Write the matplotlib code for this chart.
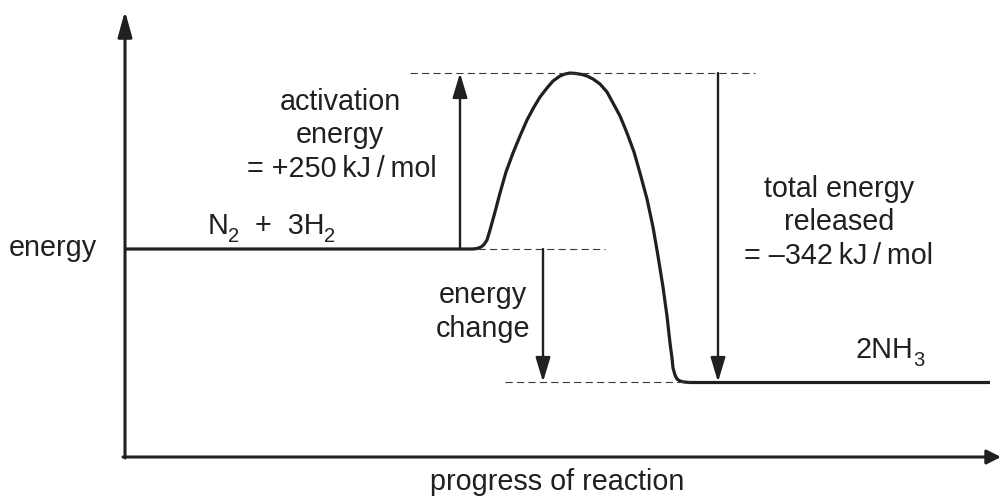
import matplotlib
matplotlib.use('Agg')
import matplotlib.pyplot as plt
from matplotlib.transforms import offset_copy

plt.rcParams['font.family'] = ['Liberation Sans', 'DejaVu Sans']

# ---- data (picture units: x = progress, y = energy, downward) ----
reactant_level = 249
peak_level = 73
product_level = 382
activation_energy = "+250"
total_released = "\u2013342"
reactants = [("N", False), ("2", True), ("  +  3H", False), ("2", True)]
products = [("2NH", False), ("3", True)]

profile_progress = [125, 473, 477, 481, 484, 487, 490, 495, 500, 506, 513, 520, 527, 534,
                    540, 547, 553, 560, 565, 570, 576, 582, 587, 593, 600, 607, 613, 620,
                    627, 634, 640, 647, 653, 658, 663, 667, 670, 672, 673, 675, 677, 680,
                    684, 690, 990]
profile_energy = [249, 249, 248.5, 247, 244.5, 240, 230, 212, 193, 172, 153, 136, 120, 107,
                  97, 88, 81, 76, 74, 73, 73.5, 74.5, 76, 79, 84, 92, 103, 116,
                  133, 152, 173, 199, 227, 256, 287, 316, 343, 358, 368, 375, 379, 381,
                  382, 382.5, 382.5]

ink = '#231f20'
dash_col = '#3a3a3a'
fs = 20.7
fs_sub = 14.5

fig = plt.figure(figsize=(10.03, 4.98), dpi=100)
ax = fig.add_axes([0, 0, 1, 1])
ax.set_xlim(0, 1003)
ax.set_ylim(498, 0)
ax.axis('off')

# energy profile
ax.plot(profile_progress, profile_energy, color=ink, lw=2.3, solid_capstyle='butt',
        solid_joinstyle='round')

# axes with arrows
ax.annotate('', xy=(125, 11), xytext=(125, 458),
            arrowprops=dict(arrowstyle='-|>,head_length=1.55,head_width=0.43', lw=2.2,
                            color=ink, shrinkA=0, shrinkB=0, mutation_scale=10))
ax.annotate('', xy=(1001, 457), xytext=(123, 457),
            arrowprops=dict(arrowstyle='-|>,head_length=0.85,head_width=0.43', lw=2.2,
                            color=ink, shrinkA=0, shrinkB=0, mutation_scale=10))

# dashed guide lines
dash = (0, (6.5, 3.8))
ax.plot([410, 755], [peak_level, peak_level], color=dash_col, lw=0.8, linestyle=dash)
ax.plot([478, 605], [reactant_level, reactant_level], color=dash_col, lw=0.8, linestyle=dash)
ax.plot([505, 690], [product_level, product_level], color=dash_col, lw=0.8, linestyle=dash)

# energy arrows
arrow_style = '-|>,head_length=1.5,head_width=0.45'
for x0, y_from, y_to in [(460, reactant_level, peak_level),
                         (543, reactant_level, product_level),
                         (718, peak_level, product_level)]:
    ax.annotate('', xy=(x0, y_to), xytext=(x0, y_from),
                arrowprops=dict(arrowstyle=arrow_style, lw=1.7, color=ink,
                                shrinkA=0, shrinkB=0, mutation_scale=10))

txt = dict(color=ink, fontsize=fs, va='baseline')
ts = '\u2009'
ax.text(53, 256, 'energy', ha='center', **txt)
ax.text(340, 110, 'activation', ha='center', **txt)
ax.text(340, 143, 'energy', ha='center', **txt)
ax.text(342, 177, f'= {activation_energy}{ts}kJ{ts}/{ts}mol', ha='center', **txt)

ax.text(483, 303, 'energy', ha='center', **txt)
ax.text(483, 337, 'change', ha='center', **txt)

ax.text(839, 197, 'total energy', ha='center', **txt)
ax.text(839, 230, 'released', ha='center', **txt)
ax.text(839, 264, f'= {total_released}{ts}kJ{ts}/{ts}mol', ha='center', **txt)

ax.text(557, 490, 'progress of reaction', ha='center', **txt)

# chemical formulas with lowered subscripts
renderer = fig.canvas.get_renderer()


def formula(x, y, parts):
    dx = 0.0
    for s, sub in parts:
        tr = offset_copy(ax.transData, fig=fig, x=dx, y=(-5.5 if sub else 0), units='points')
        t = ax.text(x, y, s, transform=tr, ha='left', va='baseline', color=ink,
                    fontsize=(fs_sub if sub else fs))
        w = t.get_window_extent(renderer=renderer).width
        dx += w * 72.0 / fig.dpi - (0.0 if sub else 0.6)


formula(208, 234, reactants)
formula(856, 358, products)

fig.savefig('out.png', dpi=100)
